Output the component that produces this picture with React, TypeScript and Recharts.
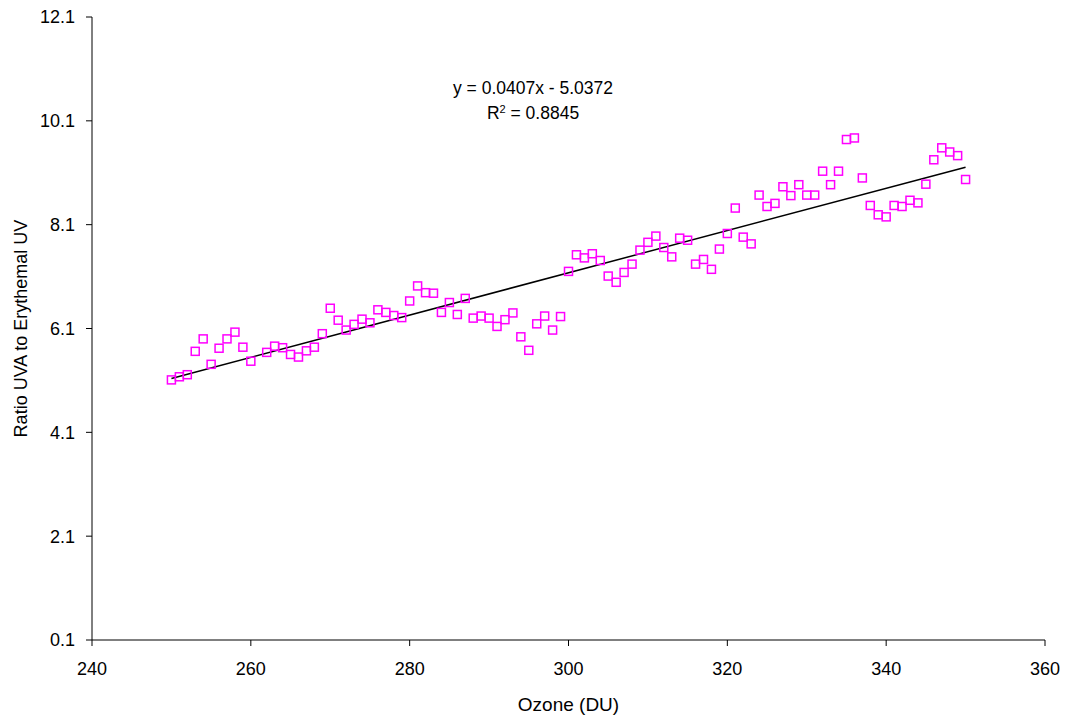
import { ScatterChart, Scatter, XAxis, YAxis } from "recharts";

// Ozone (DU) values, 250..350 (261 missing in the source)
const ozone = [
  250, 251, 252, 253, 254, 255, 256, 257, 258, 259, 260, 262, 263, 264, 265, 266, 267, 268, 269, 270,
  271, 272, 273, 274, 275, 276, 277, 278, 279, 280, 281, 282, 283, 284, 285, 286, 287, 288, 289, 290,
  291, 292, 293, 294, 295, 296, 297, 298, 299, 300, 301, 302, 303, 304, 305, 306, 307, 308, 309, 310,
  311, 312, 313, 314, 315, 316, 317, 318, 319, 320, 321, 322, 323, 324, 325, 326, 327, 328, 329, 330,
  331, 332, 333, 334, 335, 336, 337, 338, 339, 340, 341, 342, 343, 344, 345, 346, 347, 348, 349, 350,
];

// ratio UVA / erythemal UV
const ratio = [
  5.11, 5.17, 5.21, 5.66, 5.9, 5.41, 5.72, 5.9, 6.03, 5.74, 5.47, 5.64, 5.76, 5.73, 5.6, 5.55, 5.67, 5.74, 6.0, 6.49,
  6.26, 6.07, 6.18, 6.28, 6.21, 6.46, 6.41, 6.35, 6.31, 6.63, 6.92, 6.79, 6.78, 6.41, 6.6, 6.37, 6.68, 6.3, 6.34, 6.3,
  6.14, 6.27, 6.4, 5.94, 5.68, 6.19, 6.34, 6.07, 6.33, 7.2, 7.52, 7.46, 7.54, 7.41, 7.11, 6.99, 7.18, 7.34, 7.61, 7.76,
  7.88, 7.66, 7.48, 7.84, 7.8, 7.34, 7.43, 7.24, 7.63, 7.93, 8.42, 7.86, 7.73, 8.67, 8.45, 8.51, 8.83, 8.66, 8.87, 8.67,
  8.67, 9.13, 8.87, 9.13, 9.74, 9.77, 9.0, 8.47, 8.29, 8.25, 8.47, 8.45, 8.57, 8.52, 8.88, 9.35, 9.58, 9.5, 9.43, 8.97,
];

const slope = 0.0407;
const intercept = -5.0372;
const trendX = [250, 350];

const xTicks = [240, 260, 280, 300, 320, 340, 360];
const yTicks = [0.1, 2.1, 4.1, 6.1, 8.1, 10.1, 12.1];

const points = ozone.map((x, i) => ({ x, y: ratio[i] }));
const trend = trendX.map((x) => ({ x, y: slope * x + intercept }));

const font = "'Liberation Sans', Arial, sans-serif";

const SquareMark = (props: any) => {
  const { cx, cy } = props;
  if (cx == null || cy == null) return null;
  return <rect x={cx - 4} y={cy - 4} width={8} height={8} fill="none" stroke="#ff00ff" strokeWidth={1.5} />;
};

export default function App() {
  return (
    <div style={{ position: "absolute", left: 0, top: 0, width: 1066, height: 716, background: "#fff", fontFamily: font }}>
      <ScatterChart width={1066} height={716} margin={{ top: 17, right: 21, bottom: 26, left: 0 }}>
        <XAxis
          type="number"
          dataKey="x"
          domain={[240, 360]}
          ticks={xTicks}
          allowDataOverflow
          stroke="#000"
          tickSize={6}
          tickMargin={16}
          height={50}
          tick={{ fill: "#000", fontSize: 18, fontFamily: font }}
          label={{ value: "Ozone (DU)", position: "insideBottom", offset: -21, fill: "#000", fontSize: 19, fontFamily: font }}
        />
        <YAxis
          type="number"
          dataKey="y"
          domain={[0.1, 12.1]}
          ticks={yTicks}
          allowDataOverflow
          stroke="#000"
          tickSize={6}
          tickMargin={11}
          width={92}
          tickFormatter={(v: number) => v.toFixed(1)}
          tick={{ fill: "#000", fontSize: 18, fontFamily: font }}
          label={{ value: "Ratio UVA to Erythemal UV", angle: -90, position: "insideLeft", offset: 21, fill: "#000", fontSize: 18, fontFamily: font, style: { textAnchor: "middle" } }}
        />
        <Scatter data={trend} line={{ stroke: "#000", strokeWidth: 1.5 }} shape={() => null} isAnimationActive={false} />
        <Scatter data={points} shape={<SquareMark />} isAnimationActive={false} />
      </ScatterChart>
      <div style={{ position: "absolute", left: 413, top: 76, width: 240, textAlign: "center", fontSize: 17.5, lineHeight: "25px", color: "#000" }}>
        <div>y = 0.0407x - 5.0372</div>
        <div>
          R<sup style={{ fontSize: 11, verticalAlign: "top", lineHeight: "16px" }}>2</sup> = 0.8845
        </div>
      </div>
    </div>
  );
}
